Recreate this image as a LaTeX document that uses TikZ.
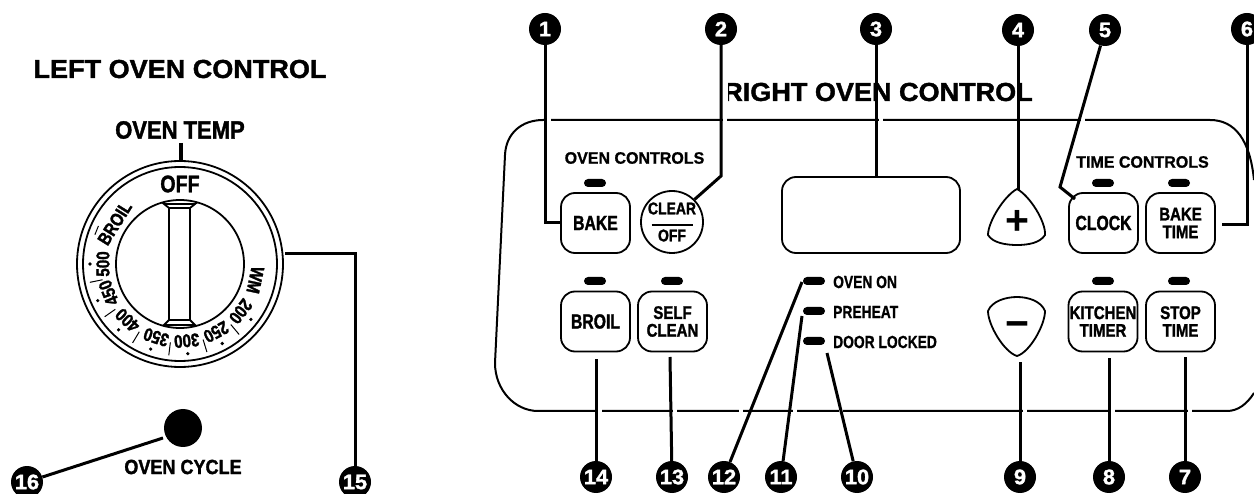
\documentclass[tikz,border=0pt]{standalone}
\usepackage{fontspec}
\setmainfont{Liberation Sans}
\newfontfamily\titlefont[FakeStretch=1.04,BoldFeatures={FakeBold=1.5}]{Liberation Sans}
\newfontfamily\headfont[FakeStretch=0.97,BoldFeatures={FakeBold=1}]{Liberation Sans}
\newfontfamily\lblfont[FakeStretch=0.79,BoldFeatures={FakeBold=1}]{Liberation Sans}
\newfontfamily\btnfont[FakeStretch=0.77,BoldFeatures={FakeBold=1.5}]{Liberation Sans}
\newfontfamily\twofont[FakeStretch=0.82,BoldFeatures={FakeBold=1.5}]{Liberation Sans}
\newfontfamily\capfont[FakeStretch=0.88,BoldFeatures={FakeBold=1.5}]{Liberation Sans}
\begin{document}
\begin{tikzpicture}[x=1pt,y=-1pt,
  num/.style = {circle, fill=black, text=white, inner sep=0pt, minimum size=32,
    font=\titlefont\bfseries\fontsize{21}{21}\selectfont},
  btn/.style = {draw, rounded corners=14, minimum width=69, minimum height=60, inner sep=0pt,
    line width=1.8, align=center, font=\btnfont\bfseries\fontsize{20.5}{17.7}\selectfont},
  btntwo/.style = {btn, font=\twofont\bfseries\fontsize{18.3}{17.7}\selectfont},
  lamp/.style = {fill=black, rounded corners=4, minimum width=22, minimum height=8, inner sep=0pt},
  lead/.style = {line width=3},
  title/.style = {inner sep=0pt, font=\titlefont\bfseries\fontsize{26}{26}\selectfont},
  head/.style = {inner sep=0pt, font=\headfont\bfseries\fontsize{16.5}{16.5}\selectfont},
  lbl/.style = {inner sep=0pt, anchor=west, font=\lblfont\bfseries\fontsize{17.5}{17.5}\selectfont},
  dialtxt/.style = {inner sep=0pt, font=\twofont\bfseries\fontsize{18.5}{18.5}\selectfont}]
\useasboundingbox (0,0) rectangle (1254,494);
% panel outline
\draw[line width=2] (1254,180) .. controls (1250,140) and (1235,120) .. (1210,120)
  -- (543,120) .. controls (522,120) and (506,133) .. (505,155) -- (495,363)
  .. controls (495,390) and (515,411) .. (538,411) -- (1227,411)
  .. controls (1238,411) and (1247,404) .. (1254,393);
\node[title] (lefttitle) at (180,69) {LEFT OVEN CONTROL};
\node[title] (righttitle) at (878,92) {RIGHT OVEN CONTROL};
% gaps beside the leaders
\fill[white] (712,78) rectangle (728,106);
\foreach \x in {547,723,879,1081}
  \fill[white] (\x,117) rectangle +(4,6);
\foreach \x in {598,673,739,793,839,1023,1111,1188}
  \fill[white] (\x,408) rectangle +(4,6);
% buttons
\node[btn] (bake) at (595.5,223) {BAKE};
\node[btn] (clock) at (1103.5,223) {CLOCK};
\node[btntwo] (baketime) at (1180.5,223) {BAKE\\TIME};
\node[btn] (broil) at (595.5,321.5) {BROIL};
\node[btntwo] (selfclean) at (672.5,321.5) {SELF\\CLEAN};
\node[btntwo] (kitchen) at (1103,321.5) {KITCHEN\\TIMER};
\node[btntwo] (stoptime) at (1180.5,321.5) {STOP\\TIME};
\node[draw, circle, line width=1.8, minimum size=62, inner sep=0pt, align=center,
  font=\twofont\bfseries\fontsize{17}{16}\selectfont] (clear) at (672,222)
  {CLEAR\\[-4pt]\rule{41pt}{2pt}\\[-1pt]OFF};
\node[draw, rounded corners=14, line width=1.8, minimum width=178, minimum height=76] (display) at (871,215) {};
% plus and minus
\draw[line width=1.8] (1017,189) .. controls (1030,196) and (1046,222) .. (1045,235)
  .. controls (1040,243) and (1028,245) .. (1017,245) .. controls (1006,245) and (993,243) .. (988,235)
  .. controls (988,222) and (1004,196) .. (1017,189) -- cycle;
\draw[line width=1.8] (1017,356) .. controls (1004,352) and (988,325) .. (988,311)
  .. controls (992,301) and (1006,297) .. (1017,297) .. controls (1028,297) and (1041,301) .. (1045,311)
  .. controls (1045,325) and (1030,352) .. (1017,356) -- cycle;
\node[inner sep=0pt, font=\bfseries\fontsize{41}{41}\selectfont] (plus) at (1017,222) {+};
\node[inner sep=0pt, font=\bfseries\fontsize{41}{41}\selectfont] (minus) at (1017,330) {−};
% lamps
\node[lamp] (lampbake) at (595,183) {};
\node[lamp] (lampclock) at (1103,183) {};
\node[lamp] (lamptime) at (1179,183) {};
\node[lamp] (lampbroil) at (595,281) {};
\node[lamp] (lampself) at (672,281) {};
\node[lamp] (lampkitchen) at (1103,281) {};
\node[lamp] (lampstop) at (1179,281) {};
\node[lamp] (lampon) at (814,281) {};
\node[lamp] (lamppre) at (814,311) {};
\node[lamp] (lampdoor) at (814,341) {};
\node[lbl] (ovenon) at (833,282) {OVEN ON};
\node[lbl] (preheat) at (833,312) {PREHEAT};
\node[lbl] (doorlocked) at (833,342) {DOOR LOCKED};
\node[head] (ovenctl) at (634.5,158) {OVEN CONTROLS};
\node[head] (timectl) at (1142.5,162) {TIME CONTROLS};
% dial
\node[draw, circle, line width=1.8, minimum size=206, inner sep=0pt] (dial) at (180,264) {};
\node[draw, circle, line width=1.8, minimum size=194, inner sep=0pt] (ring) at (180,264) {};
\node[draw, circle, line width=1.8, minimum size=128, inner sep=0pt] (knob) at (180,264) {};
\draw[fill=white, line width=1.8] (164,204) -- (195,204) -- (190,208) -- (190,320) -- (195,325)
  -- (164,325) -- (169,320) -- (169,208) -- cycle;
\draw[line width=1.8] (169,208) -- (190,208) (169,320) -- (190,320);
\begin{scope}[shift={(180,264)},y=1pt]
\foreach \ang/\txt in {58/BROIL,90/500,112/450,137/400,162/350,185/300,208/250,232/200,258/WM}
  \node[dialtxt, rotate=\ang] (d\txt) at (\ang+90:77) {\txt};
\node[inner sep=0pt, font=\twofont\bfseries\fontsize{24}{24}\selectfont] (dOFF) at (90:80) {OFF};
\foreach \ang in {90,114,137,161,185,208,232}
  \fill (\ang+90:90) circle (1.8);
\foreach \ang in {101.5,125,149,173,197,220}
  \draw[line width=1] (\ang+90:79) -- (\ang+90:92);
\draw[line width=1] (71+90:90) -- (65+90:90);
\end{scope}
\node[inner sep=0pt, font=\capfont\bfseries\fontsize{25}{25}\selectfont] (oventemp) at (180,130) {OVEN TEMP};
\node[inner sep=0pt, font=\capfont\bfseries\fontsize{20.5}{20.5}\selectfont] (ovencycle) at (183,467) {OVEN CYCLE};
\node[circle, fill=black, minimum size=38, inner sep=0pt] (cycle) at (183,428) {};
% numbers
\node[num] (n1) at (545,29) {1};
\node[num] (n2) at (721,29) {2};
\node[num] (n3) at (876,29) {3};
\node[num] (n4) at (1018,30) {4};
\node[num] (n5) at (1105,30) {5};
\node[num] (n6) at (1247,29) {6};
\node[num] (n7) at (1185,477) {7};
\node[num] (n8) at (1109,477) {8};
\node[num] (n9) at (1020,477) {9};
\node[num] (n10) at (857,477) {10};
\node[num] (n11) at (781,477) {11};
\node[num] (n12) at (724,477) {12};
\node[num] (n13) at (672,477) {13};
\node[num] (n14) at (596,477) {14};
\node[num] (n15) at (355,482) {15};
\node[num] (n16) at (27,482) {16};
% free ends
\coordinate (bend2) at (721,176);
\coordinate (bend5) at (1060,187);
\coordinate (end5) at (1075,199);
\coordinate (end6) at (1222,225);
\coordinate (plustop) at (1018,190);
\coordinate (minusend) at (1020,362);
\coordinate (end7) at (1185,357);
\coordinate (end8) at (1109,358);
\coordinate (end10) at (827,353);
\coordinate (end11) at (802,316);
\coordinate (end12) at (802,282);
\coordinate (end13) at (670,357);
\coordinate (end14) at (596,359);
\coordinate (end15) at (285,254);
\coordinate (end16) at (163,438);
% leaders
\draw[lead] (n1) |- (bake.west);
\draw[lead] (n2) -- (bend2) -- (clear.45);
\draw[lead] (n3) -- (n3 |- display.north);
\draw[lead] (n4) -- (plustop);
\draw[lead] (n5) -- (bend5) -- (end5);
\draw[lead] (n6) |- (end6);
\draw[lead] (n7) -- (end7);
\draw[lead] (n8) -- (end8);
\draw[lead] (n9) -- (minusend);
\draw[lead] (n10) -- (end10);
\draw[lead] (n11) -- (end11);
\draw[lead] (n12) -- (end12);
\draw[lead] (n13) -- (end13);
\draw[lead] (n14) -- (end14);
\draw[lead] (n15) |- (end15);
\draw[lead] (n16) -- (end16);
\draw[line width=3.5] (181,143) -- (dial.north -| 181,143);
\end{tikzpicture}
\end{document}
